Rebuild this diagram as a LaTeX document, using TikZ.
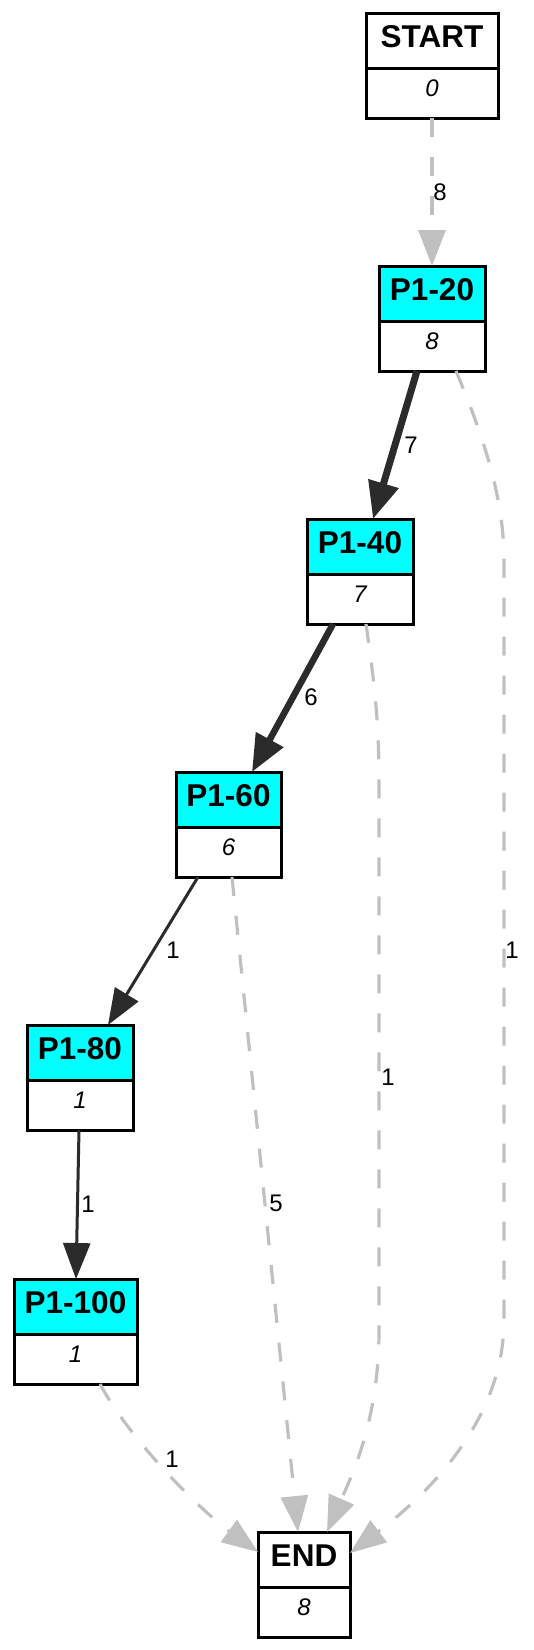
\documentclass[tikz,border=0pt]{standalone}
\usepackage{fontspec}
\setmainfont{Liberation Sans}
\usetikzlibrary{arrows.meta}
\definecolor{boxcyan}{HTML}{00FFFF}
\definecolor{edgedark}{HTML}{2B2B2B}
\definecolor{edgegray}{HTML}{C0C0C0}
\begin{document}
\begin{tikzpicture}[x=1pt,y=-1pt,
 hdr/.style={draw=black, line width=3pt, fill=boxcyan, inner sep=0pt, outer sep=0pt, minimum height=55pt, text height=23pt, text depth=10pt, font=\fontsize{31.5}{36}\selectfont\bfseries},
 hdrw/.style={hdr, fill=white},
 val/.style={draw=black, line width=3pt, fill=white, inner sep=0pt, outer sep=0pt, minimum height=50pt, text height=18pt, text depth=12pt, font=\fontsize{24}{28}\selectfont\itshape},
 lab/.style={anchor=base, inner sep=0pt, font=\fontsize{24}{28}\selectfont},
 darkedge/.style={draw=edgedark, line width=3pt, -{Triangle[length=36pt,width=27pt]}},
 thickedge/.style={draw=edgedark, line width=6.5pt, -{Triangle[length=37pt,width=30pt]}},
 grayedge/.style={draw=edgegray, line width=3.2pt, dash pattern=on 19pt off 20pt, -{Triangle[length=36pt,width=27pt]}},
]
\useasboundingbox (0,0) rectangle (534,1650);

% boxes
\node[hdrw, minimum width=132pt] (starth) at (432,40.5) {START};
\node[val, minimum width=132pt] (startv) at (432,93) {0};

\node[hdr, minimum width=106pt] (p20) at (432,293.5) {P1-20};
\node[val, minimum width=106pt] (p20v) at (432,346) {8};

\node[hdr, minimum width=106pt] (p40) at (360,546.5) {P1-40};
\node[val, minimum width=106pt] (p40v) at (360,599) {7};

\node[hdr, minimum width=105pt] (p60) at (228.5,799.5) {P1-60};
\node[val, minimum width=105pt] (p60v) at (228.5,852) {6};

\node[hdr, minimum width=106pt] (p80) at (80,1052.5) {P1-80};
\node[val, minimum width=106pt] (p80v) at (80,1105) {1};

\node[hdr, minimum width=123pt] (p100) at (75.5,1306.5) {P1-100};
\node[val, minimum width=123pt] (p100v) at (75.5,1359) {1};

\node[hdrw, minimum width=92pt] (endh) at (304,1559.5) {END};
\node[val, minimum width=92pt] (endv) at (304,1612) {8};

% edges
\draw[grayedge] (startv.south) -- (p20.north);
\draw[thickedge, line width=7pt] ([xshift=-15pt]p20v.south) -- ([xshift=13pt]p40.north);
\draw[thickedge] ([xshift=-27pt]p40v.south) -- ([xshift=23.5pt]p60.north);
\draw[darkedge] ([xshift=-30.5pt]p60v.south) -- ([xshift=28pt]p80.north);
\draw[darkedge] ([xshift=-1pt]p80v.south) -- ([xshift=0.5pt]p100.north);
\draw[grayedge] ([xshift=24pt]p20v.south) .. controls (485,440) and (504,500) .. (504,560) -- (504,1320) .. controls (504,1425) and (420,1500) .. ([yshift=6.5pt]endh.east);
\draw[grayedge] ([xshift=6pt]p40v.south) .. controls (374,680) and (379,720) .. (379,780) -- (379,1330) .. controls (379,1420) and (352,1475) .. ([xshift=23pt]endh.north);
\draw[grayedge] ([xshift=3.5pt]p60v.south) -- ([xshift=-6pt]endh.north);
\draw[grayedge] ([xshift=24.5pt]p100v.south) .. controls (130,1440) and (200,1510) .. ([yshift=7.5pt]endh.west);

% edge labels
\node[lab] (l1) at (440,200) {8};
\node[lab] (l2) at (411,453) {7};
\node[lab] (l3) at (512,958) {1};
\node[lab] (l4) at (311,705) {6};
\node[lab] (l5) at (388,1085) {1};
\node[lab] (l6) at (173,958) {1};
\node[lab] (l7) at (276,1211) {5};
\node[lab] (l8) at (88,1212) {1};
\node[lab] (l9) at (172,1467) {1};
\end{tikzpicture}
\end{document}
